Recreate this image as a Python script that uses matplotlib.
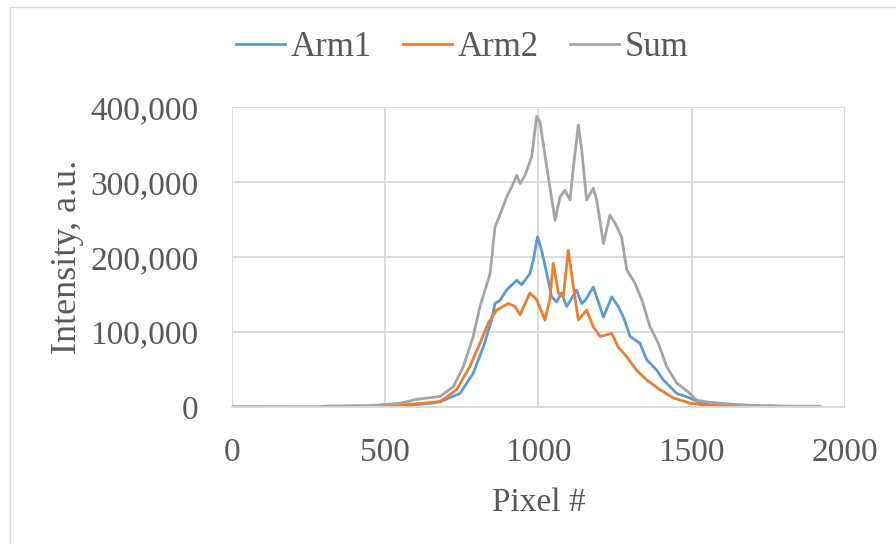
import matplotlib.pyplot as plt
from matplotlib.patches import Rectangle
from matplotlib.ticker import FuncFormatter

# ---------------------------------------------------------------------------
# Data (intensity in thousands)
# ---------------------------------------------------------------------------
sum_px = [0, 280, 300, 460, 550, 600, 640, 679, 722, 755, 787, 809, 842, 858,
          874, 896, 913, 929, 940, 956, 978, 994, 1005, 1027, 1054, 1070, 1086,
          1103, 1114, 1130, 1141, 1157, 1179, 1190, 1212, 1233, 1250, 1271,
          1288, 1315, 1337, 1364, 1391, 1418, 1451, 1494, 1516, 1560, 1620,
          1700, 1800, 1918]
sum_val = [0, 0, 1, 2, 5, 10, 12, 14, 27, 54, 94, 134, 178, 240,
           256, 280, 294, 309, 298, 309, 334, 388, 380, 320, 249, 280, 289,
           276, 320, 376, 343, 276, 292, 276, 218, 256, 245, 227,
           183, 165, 143, 107, 85, 54, 32, 18, 9, 6, 4,
           2, 1, 1]

arm1_px = [0, 350, 380, 550, 600, 650, 679, 744, 787, 820, 847, 858, 874, 896,
           929, 945, 972, 983, 997, 1010, 1027, 1043, 1059, 1075, 1092, 1124,
           1141, 1152, 1179, 1212, 1239, 1260, 1277, 1299, 1331, 1353, 1386,
           1407, 1451, 1494, 1530, 1600, 1918]
arm1_val = [0, -1, 0, 1, 3, 5, 7, 18, 45, 80, 116, 138, 142, 156,
            169, 163, 178, 196, 227, 209, 178, 147, 140, 152, 134, 156,
            138, 142, 160, 120, 147, 134, 120, 94, 85, 63, 49,
            36, 18, 12, 5, 2, 0]

arm2_px = [0, 300, 370, 500, 600, 650, 679, 733, 776, 809, 836, 863, 901, 923,
           940, 972, 994, 1021, 1037, 1048, 1065, 1081, 1097, 1114, 1130, 1157,
           1179, 1201, 1239, 1260, 1288, 1320, 1353, 1396, 1440, 1494, 1550,
           1650, 1750, 1780, 1918]
arm2_val = [0, 0, -1, 1, 4, 6, 7, 23, 54, 85, 112, 129, 138, 134,
            123, 152, 143, 116, 143, 192, 152, 147, 209, 160, 116, 129,
            107, 94, 98, 80, 67, 49, 36, 23, 12, 5, 2,
            0, 0, -2, -2]

x_ticks = [0, 500, 1000, 1500, 2000]
y_ticks = [0, 100000, 200000, 300000, 400000]

TEXT = "#595959"
GRID = "#D9D9D9"

plt.rcParams["font.family"] = ["Liberation Serif", "DejaVu Serif"]

fig = plt.figure(figsize=(8.96, 5.44), dpi=100)

# Excel-style chart area border (right and bottom edges are cut off)
fig.patches.append(Rectangle((0.011, -0.1), 1.1, 0.987 + 0.1,
                             transform=fig.transFigure, fill=False,
                             edgecolor=GRID, linewidth=1.0))

ax = fig.add_axes([0.259, 0.252, 0.684, 0.551])

ax.plot(arm1_px, [v * 1000 for v in arm1_val], color="#5B9BD5", lw=2.0,
        label="Arm1")
ax.plot(arm2_px, [v * 1000 for v in arm2_val], color="#ED7D31", lw=2.0,
        label="Arm2")
ax.plot(sum_px, [v * 1000 for v in sum_val], color="#A5A5A5", lw=2.0,
        label="Sum")

ax.set_xlim(0, 2000)
ax.set_ylim(0, 400000)
ax.set_xticks(x_ticks)
ax.set_yticks(y_ticks)
ax.yaxis.set_major_formatter(FuncFormatter(lambda v, _: f"{v:,.0f}"))

ax.grid(True, color=GRID, linewidth=1.3)
ax.set_axisbelow(True)
for side in ["top", "right", "left"]:
    ax.spines[side].set_visible(False)
ax.spines["bottom"].set_color(GRID)
ax.spines["bottom"].set_linewidth(1.3)

ax.tick_params(axis="both", length=0, labelsize=24, colors=TEXT)
ax.tick_params(axis="y", pad=24)
ax.tick_params(axis="x", pad=22)

ax.set_xlabel("Pixel #", fontsize=24, color=TEXT, labelpad=14)
ax.set_ylabel("Intensity, a.u.", fontsize=26, color=TEXT)
ax.yaxis.set_label_coords(-0.242, 0.5)

fig.legend(loc="center", bbox_to_anchor=(0.516, 0.912), ncol=3,
           frameon=False, fontsize=25, labelcolor=TEXT, handlelength=1.4,
           handletextpad=0.17, columnspacing=0.9)

fig.savefig("out.png", dpi=100)
